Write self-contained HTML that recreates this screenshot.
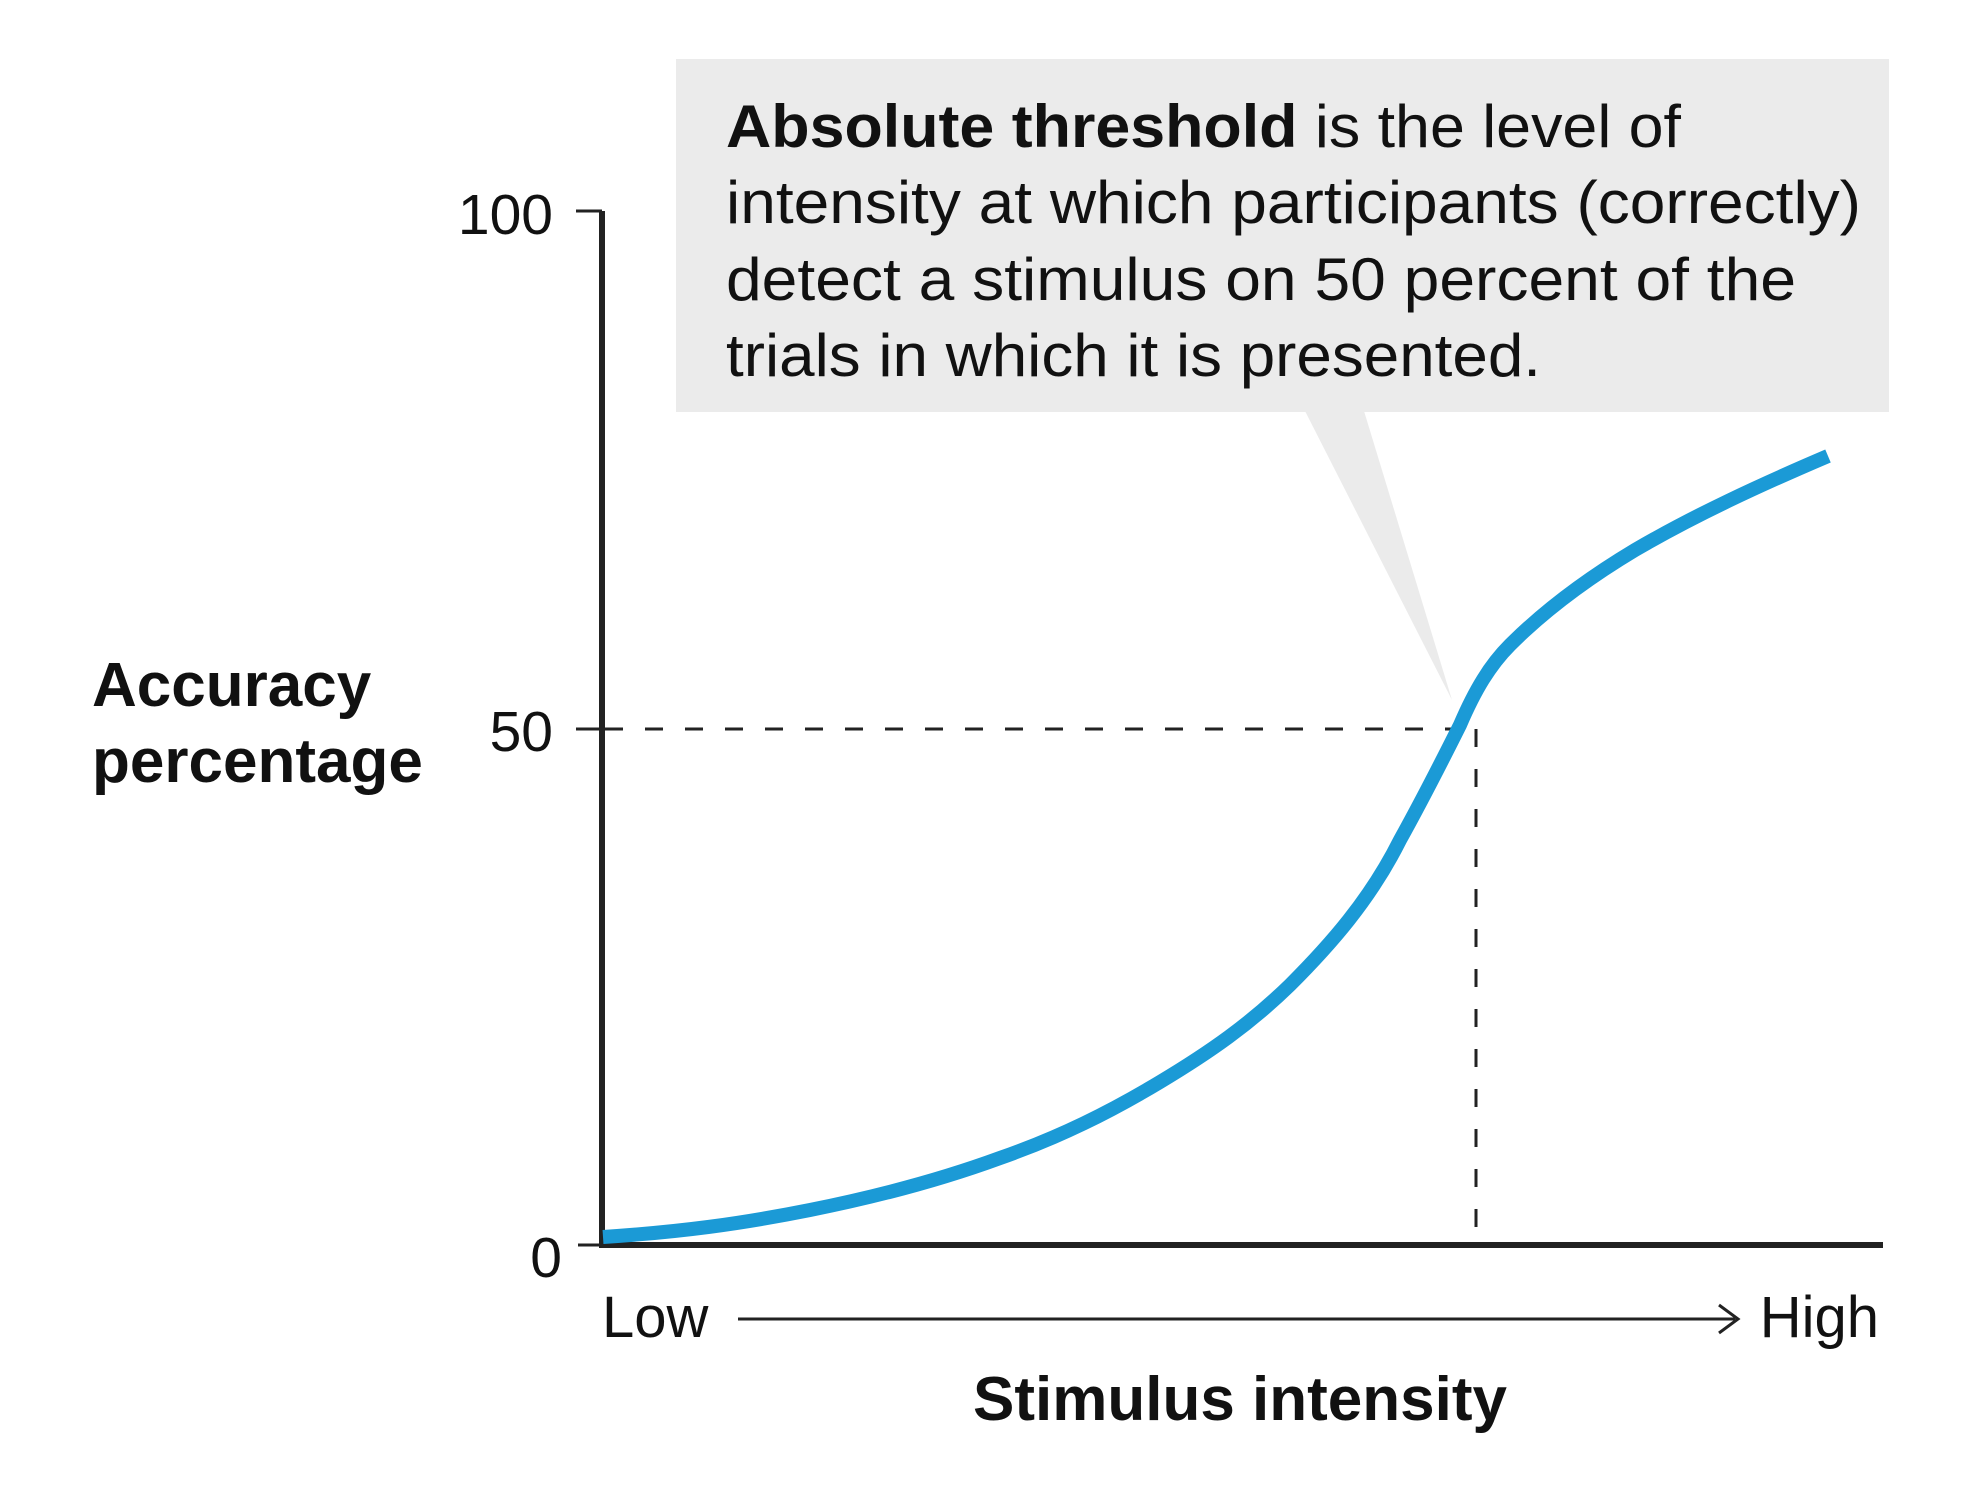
<!DOCTYPE html>
<html><head><meta charset="utf-8"><style>
html,body{margin:0;padding:0;background:#fff;}
svg{display:block;}
text{font-family:"Liberation Sans",Arial,sans-serif;fill:#111;}
</style></head><body>
<svg width="1961" height="1510" viewBox="0 0 1961 1510" xmlns="http://www.w3.org/2000/svg">
<rect x="676" y="59" width="1213" height="353" fill="#ebebeb"/>
<polygon points="1305,411 1364,411 1452,700" fill="#ebebeb"/>
<g font-size="60">
<text x="726" y="147" textLength="955" lengthAdjust="spacingAndGlyphs"><tspan font-weight="bold">Absolute threshold</tspan> is the level of</text>
<text x="726" y="223" textLength="1135" lengthAdjust="spacingAndGlyphs">intensity at which participants (correctly)</text>
<text x="726" y="300" textLength="1070" lengthAdjust="spacingAndGlyphs">detect a stimulus on 50 percent of the</text>
<text x="726" y="376" textLength="815" lengthAdjust="spacingAndGlyphs">trials in which it is presented.</text>
</g>
<line x1="605" y1="729" x2="1476" y2="729" stroke="#222" stroke-width="3" stroke-dasharray="18,22"/>
<line x1="1476" y1="729" x2="1476" y2="1245" stroke="#222" stroke-width="3" stroke-dasharray="18,22"/>
<line x1="602" y1="211" x2="602" y2="1248" stroke="#222" stroke-width="6"/>
<line x1="599" y1="1245" x2="1883" y2="1245" stroke="#222" stroke-width="6"/>
<line x1="576" y1="211" x2="602" y2="211" stroke="#222" stroke-width="3"/>
<line x1="576" y1="729" x2="602" y2="729" stroke="#222" stroke-width="3"/>
<line x1="578" y1="1245" x2="602" y2="1245" stroke="#222" stroke-width="3"/>
<path d="M603,1237 C680,1232 740,1224 810,1210 C880,1196 940,1180 1000,1158 C1060,1137 1110,1112 1160,1082 C1210,1052 1250,1024 1290,985 C1330,945 1370,900 1400,840 C1425,795 1445,755 1460,725 C1475,690 1490,665 1510,645 C1545,610 1585,580 1635,550 C1695,515 1760,485 1828,456" fill="none" stroke="#1b9ad6" stroke-width="14" stroke-linecap="butt"/>
<g font-size="57" text-anchor="end">
<text x="553" y="234">100</text>
<text x="553" y="751">50</text>
<text x="562" y="1277">0</text>
</g>
<g font-size="62" font-weight="bold">
<text x="92" y="706">Accuracy</text>
<text x="92" y="782">percentage</text>
</g>
<text x="602" y="1337" font-size="58">Low</text>
<text x="1879" y="1337" font-size="58" text-anchor="end">High</text>
<line x1="738" y1="1319" x2="1735" y2="1319" stroke="#222" stroke-width="3"/>
<polyline points="1719,1305 1738,1319 1719,1333" fill="none" stroke="#222" stroke-width="3"/>
<text x="1240" y="1420" font-size="62" font-weight="bold" text-anchor="middle">Stimulus intensity</text>
</svg>
</body></html>
